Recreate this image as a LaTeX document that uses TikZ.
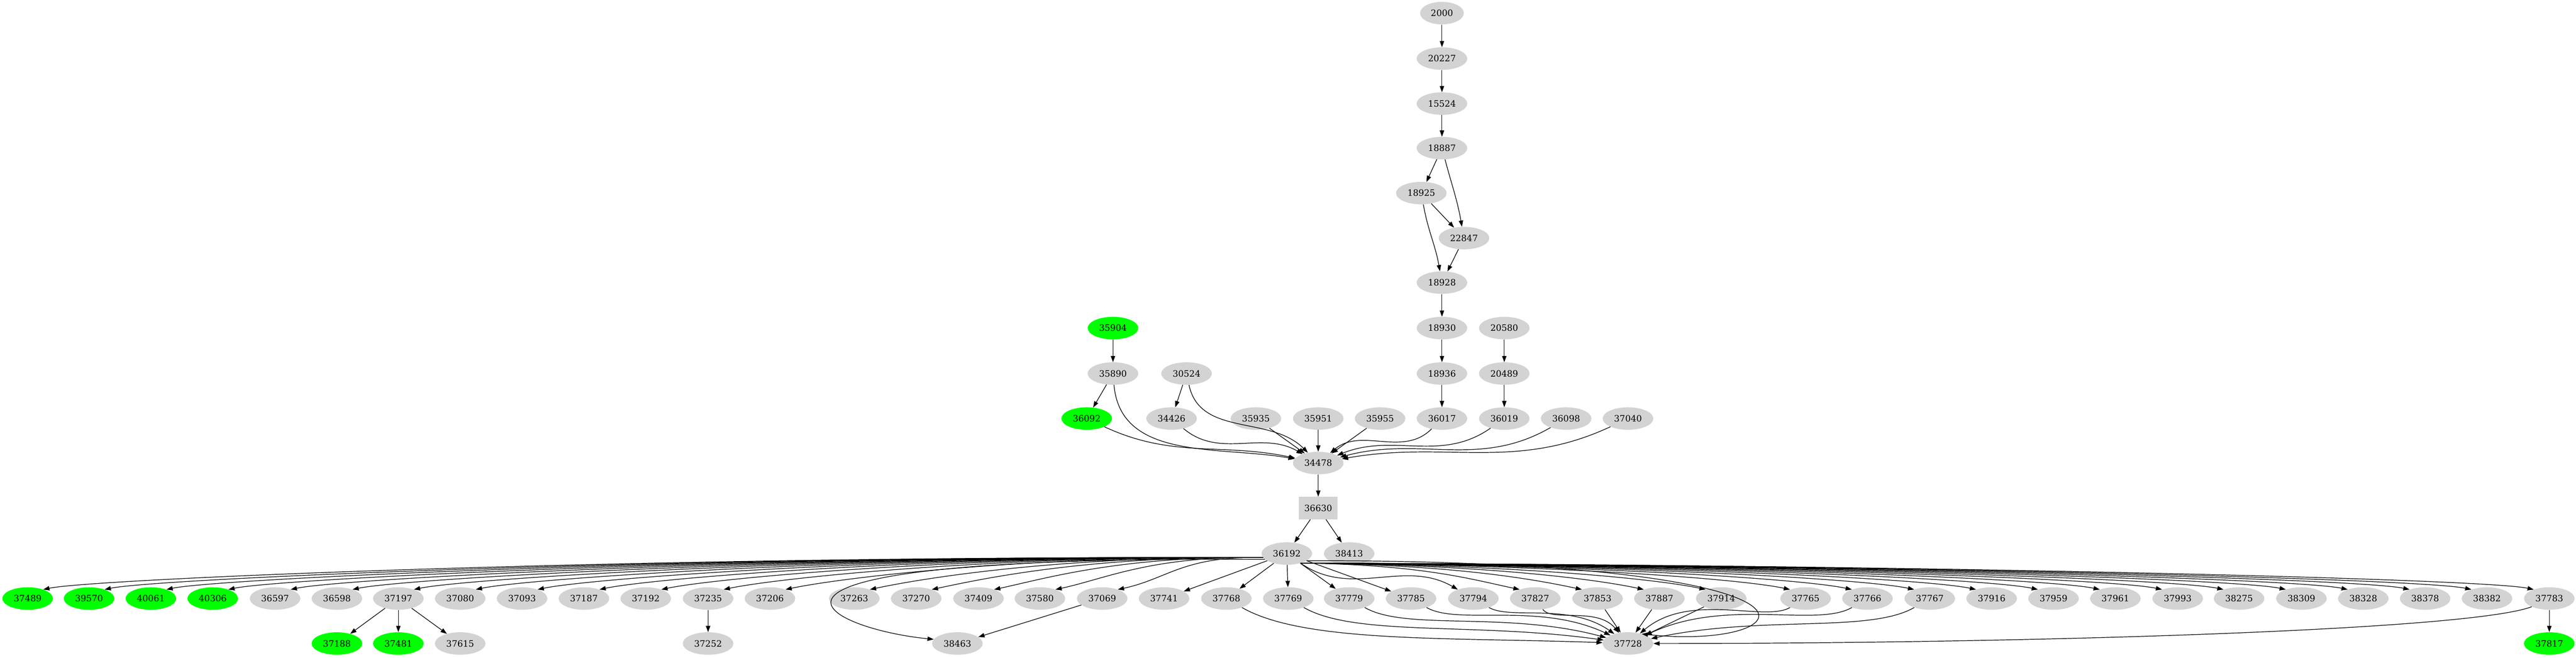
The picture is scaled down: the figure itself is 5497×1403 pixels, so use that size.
\documentclass[tikz,border=0pt]{standalone}
\usepackage{fontspec}
\setmainfont{DejaVu Serif}
\usetikzlibrary{positioning,shapes.geometric,arrows.meta}
\definecolor{gvgray}{HTML}{D3D3D3}
\definecolor{gvgreen}{HTML}{00FF00}

\begin{document}
\begin{tikzpicture}[x=0.75pt,y=-0.75pt]
    \tikzstyle{every node}=[ellipse,fill=gvgray,draw=none,minimum width=81pt,minimum height=36pt,inner sep=0,font=\fontsize{14}{16}\selectfont]
    \tikzstyle{done}=[fill=gvgreen]
    \tikzstyle{box}=[rectangle,minimum width=62pt,minimum height=36pt]
    \tikzstyle{link}=[->,>={Triangle[length=10pt,width=7pt]},line width=1pt]
    \tikzstyle{sink}=[out=-30,out looseness=0.5,in looseness=1.1]
    \tikzstyle{sinkr}=[out=-150,out looseness=0.5,in looseness=1.1]
    {
        \useasboundingbox (0,0) rectangle (5497,1403);

        % upper chain
        \node[minimum width=70pt] (n2000) at (3077,28) {2000};
        \node (n20227) at (3077,125) {20227};
        \node (n15524) at (3077,221) {15524};
        \node (n18887) at (3077,316) {18887};
        \node (n18925) at (3033,412) {18925};
        \node (n22847) at (3124,508) {22847};
        \node (n18928) at (3077,603) {18928};
        \node (n18930) at (3077,700) {18930};
        \node (n20580) at (3210,700) {20580};
        \node (n18936) at (3077,797) {18936};
        \node (n20489) at (3210,797) {20489};
        \node[done] (n35904) at (2375,700) {35904};
        \node (n35890) at (2375,797) {35890};
        \node (n30524) at (2532,797) {30524};

        \node[done] (n36092) at (2319,893) {36092};
        \node (n34426) at (2500,893) {34426};
        \node (n35935) at (2680,893) {35935};
        \node (n35951) at (2813,893) {35951};
        \node (n35955) at (2945,893) {35955};
        \node (n36017) at (3077,893) {36017};
        \node (n36019) at (3210,893) {36019};
        \node (n36098) at (3342,893) {36098};
        \node (n37040) at (3474,893) {37040};

        \node (n34478) at (2813,988) {34478};
        \node[box] (n36630) at (2813,1084) {36630};
        \node (n36192) at (2746,1181) {36192};
        \node (n38413) at (2879,1181) {38413};

        % row of children
        \node[done] (n37489) at (59,1277) {37489};
        \node[done] (n39570) at (190,1277) {39570};
        \node[done] (n40061) at (322,1277) {40061};
        \node[done] (n40306) at (454,1277) {40306};
        \node (n36597) at (587,1277) {36597};
        \node (n36598) at (719,1277) {36598};
        \node (n37197) at (850,1277) {37197};
        \node (n37080) at (982,1277) {37080};
        \node (n37093) at (1114,1277) {37093};
        \node (n37187) at (1246,1277) {37187};
        \node (n37192) at (1378,1277) {37192};
        \node (n37235) at (1511,1277) {37235};
        \node (n37206) at (1643,1277) {37206};
        \node (n37263) at (1823,1277) {37263};
        \node (n37270) at (1955,1277) {37270};
        \node (n37409) at (2088,1277) {37409};
        \node (n37580) at (2219,1277) {37580};
        \node (n37069) at (2352,1277) {37069};
        \node (n37741) at (2484,1277) {37741};
        \node (n37768) at (2617,1277) {37768};
        \node (n37769) at (2749,1277) {37769};
        \node (n37779) at (2879,1277) {37779};
        \node (n37785) at (3011,1277) {37785};
        \node (n37794) at (3144,1277) {37794};
        \node (n37827) at (3276,1277) {37827};
        \node (n37853) at (3409,1277) {37853};
        \node (n37887) at (3541,1277) {37887};
        \node (n37914) at (3673,1277) {37914};
        \node (n37765) at (3853,1277) {37765};
        \node (n37766) at (3985,1277) {37766};
        \node (n37767) at (4118,1277) {37767};
        \node (n37916) at (4250,1277) {37916};
        \node (n37959) at (4382,1277) {37959};
        \node (n37961) at (4514,1277) {37961};
        \node (n37993) at (4647,1277) {37993};
        \node (n38275) at (4778,1277) {38275};
        \node (n38309) at (4911,1277) {38309};
        \node (n38328) at (5043,1277) {38328};
        \node (n38378) at (5175,1277) {38378};
        \node (n38382) at (5307,1277) {38382};
        \node (n37783) at (5440,1277) {37783};

        % bottom row
        \node[done] (n37188) at (719,1373) {37188};
        \node[done] (n37481) at (850,1373) {37481};
        \node (n37615) at (982,1373) {37615};
        \node (n37252) at (1511,1373) {37252};
        \node (n38463) at (2043,1373) {38463};
        \node (n37728) at (3474,1373) {37728};
        \node[done] (n37817) at (5440,1373) {37817};

        \path[link]
            (n2000) edge (n20227)
            (n20227) edge (n15524)
            (n15524) edge (n18887)
            (n18887) edge (n18925)
            (n18887) edge[out=-75,in=100] (n22847)
            (n18925) edge (n22847)
            (n18925) edge[out=-80,in=100] (n18928)
            (n22847) edge (n18928)
            (n18928) edge (n18930)
            (n18930) edge (n18936)
            (n18936) edge (n36017)
            (n20580) edge (n20489)
            (n20489) edge (n36019)
            (n35904) edge (n35890)
            (n35890) edge (n36092)
            (n35890) edge[out=-85,in=170] (n34478)
            (n30524) edge (n34426)
            (n30524) edge[out=-78,in=135] (n34478)
            (n36092) edge[out=-25,in=168] (n34478)
            (n34426) edge[out=-40,in=150] (n34478)
            (n35935) edge (n34478)
            (n35951) edge (n34478)
            (n35955) edge (n34478)
            (n36017) edge[out=-135,in=40] (n34478)
            (n36019) edge[out=-145,in=22] (n34478)
            (n36098) edge[out=-150,in=15] (n34478)
            (n37040) edge[out=-155,in=10] (n34478)
            (n34478) edge (n36630)
            (n36630) edge (n36192)
            (n36630) edge (n38413);

        % fan out of 36192, left side
        \foreach \c/\x in {37489/59,39570/190,40061/322,40306/454,36597/587,36598/719,
                           37197/850,37080/982,37093/1114,37187/1246,37192/1378,37235/1511,
                           37206/1643,37263/1823,37270/1955,37409/2088,37580/2219,37069/2352}
            \draw[link] (n36192.190) .. controls ({1350+\x/2},1185) and ({\x+140},1235) .. (n\c.30);

        % fan out of 36192, right side
        \foreach \c/\x in {37827/3276,37853/3409,37887/3541,37914/3673,37765/3853,37766/3985,
                           37767/4118,37916/4250,37959/4382,37961/4514,37993/4647,38275/4778,
                           38309/4911,38328/5043,38378/5175,38382/5307,37783/5440}
            \draw[link] (n36192.-35) .. controls ({1395+\x/2},1205) and ({\x-140},1235) .. (n\c.150);

        \path[link]
            (n36192) edge (n37741)
            (n36192) edge (n37768)
            (n36192) edge (n37769)
            (n36192) edge (n37779)
            (n36192) edge (n37785)
            (n36192) edge[out=-35,in=150] (n37794);

        \draw[link] (n36192.-20) .. controls (4000,1195) and (3850,1390) .. (n37728.35);
        \draw[link] (n36192.195) .. controls (1450,1185) and (1750,1340) .. (n38463.170);

        \path[link]
            (n37197) edge (n37188)
            (n37197) edge (n37481)
            (n37197) edge (n37615)
            (n37235) edge (n37252)
            (n37069) edge (n38463)
            (n37783) edge (n37817);

        \path[link]
            (n37768) edge[sink,in=178] (n37728)
            (n37769) edge[sink,in=172] (n37728)
            (n37779) edge[sink,in=165] (n37728)
            (n37785) edge[sink,in=155] (n37728)
            (n37794) edge[sink,in=145] (n37728)
            (n37827) edge[sink,out=-55,in=130] (n37728)
            (n37853) edge (n37728)
            (n37887) edge (n37728)
            (n37914) edge (n37728)
            (n37765) edge[sinkr,in=40] (n37728)
            (n37766) edge[sinkr,in=25] (n37728)
            (n37767) edge[sinkr,in=12] (n37728);
        \draw[link] (n37783.-155) .. controls (5270,1345) and (4330,1373) .. (n37728.east);
    }
\end{tikzpicture}
\end{document}
